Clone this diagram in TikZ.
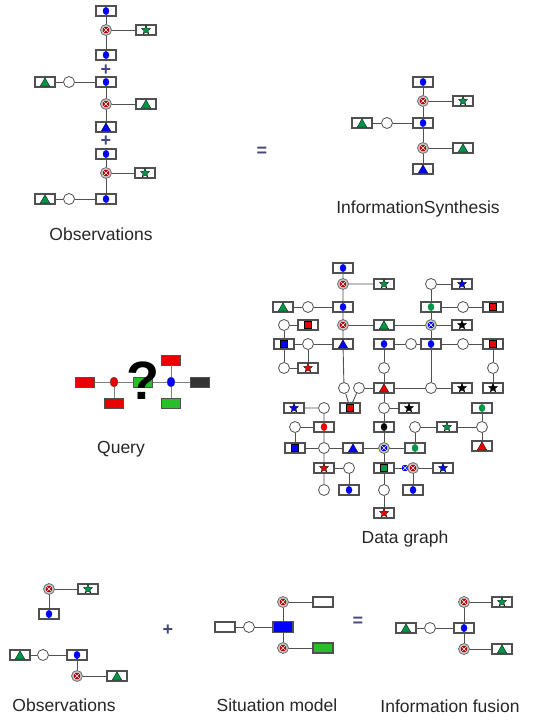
\documentclass[tikz,border=0pt]{standalone}
\usepackage{fontspec}
\setmainfont{Liberation Sans}
\usetikzlibrary{shapes.geometric}

\definecolor{gcol}{RGB}{0,150,70}
\definecolor{qgreen}{RGB}{40,190,40}
\definecolor{xred}{RGB}{180,0,0}
\definecolor{rcol}{RGB}{235,0,0}
\definecolor{opcol}{RGB}{70,70,130}
\definecolor{lcol}{RGB}{80,80,80}

\tikzset{
  vbox/.style={rectangle, draw=lcol, line width=1.1pt, fill=white, minimum width=20, minimum height=10, inner sep=0},
  ring/.style={circle, draw=lcol, line width=0.8pt, fill=white, minimum size=11, inner sep=0},
  edge/.style={draw=lcol, line width=0.9pt},
  dotm/.style={ellipse, inner sep=0, minimum width=6.5, minimum height=8},
  trim/.style={regular polygon, regular polygon sides=3, inner sep=0, minimum size=11, draw=black, line width=0.3pt, yshift=-1.3pt},
  starm/.style={star, star points=5, star point ratio=2.3, inner sep=0, minimum size=9.5, draw=black, line width=0.3pt},
  sqm/.style={rectangle, inner sep=0, minimum size=7, draw=black, line width=0.3pt},
  dotbox/.style={vbox, label={[dotm, fill=#1]center:{}}},
  tribox/.style={vbox, label={[trim, fill=#1]center:{}}},
  starbox/.style={vbox, label={[starm, fill=#1]center:{}}},
  sqbox/.style={vbox, label={[sqm, fill=#1]center:{}}},
  xm/.style={rectangle, inner sep=0, minimum size=6,
    path picture={\draw[white, line width=0.4pt] (path picture bounding box.south west) -- (path picture bounding box.north east)
      (path picture bounding box.north west) -- (path picture bounding box.south east);}},
  xnode/.style={circle, draw=gray!80!black, line width=0.7pt, fill=gray!50, minimum size=11, inner sep=0, label={[xm, fill=#1]center:{}}},
  xnode/.default=xred,
  qrect/.style={rectangle, draw=lcol, line width=0.5pt, minimum width=19, minimum height=10, inner sep=0, fill=#1},
  qdot/.style={ellipse, draw=lcol, line width=0.4pt, minimum width=8, minimum height=10, inner sep=0, fill=#1},
  qedge/.style={draw=gray, line width=0.8pt},
  caption/.style={anchor=base, text=black!85, font=\fontsize{17.5}{20}\selectfont},
  op/.style={text=opcol, font=\fontsize{18}{18}\selectfont\bfseries}
}

\begin{document}
\begin{tikzpicture}[x=1pt, y=-1pt]
	\useasboundingbox (0,0) rectangle (544,720);

	% Observations (top)
	\node[dotbox=blue] (oa1) at (106,11) {};
	\node[xnode] (oa2) at (106,30) {};
	\node[starbox=gcol] (oa3) at (146,30) {};
	\node[dotbox=blue] (oa4) at (106,55) {};
	\node[op] (plus1) at (106,70) {+};
	\node[dotbox=blue] (ob1) at (106,82) {};
	\node[ring] (ob2) at (69,82) {};
	\node[tribox=gcol] (ob3) at (45,82) {};
	\node[xnode] (ob4) at (106,104) {};
	\node[tribox=gcol] (ob5) at (146,104) {};
	\node[tribox=blue] (ob6) at (106,127) {};
	\node[op] (plus2) at (106,141) {+};
	\node[dotbox=blue] (oc1) at (106,154) {};
	\node[xnode] (oc2) at (106,173) {};
	\node[starbox=gcol] (oc3) at (145,173) {};
	\node[dotbox=blue] (oc4) at (106,199) {};
	\node[ring] (oc5) at (69,199) {};
	\node[tribox=gcol] (oc6) at (45,199) {};
	\draw[edge] (oa1) -- (oa2) -- (oa4) (oa2) -- (oa3);
	\draw[edge] (ob3) -- (ob2) -- (ob1) -- (ob4) -- (ob6) (ob4) -- (ob5);
	\draw[edge] (oc1) -- (oc2) -- (oc4) (oc2) -- (oc3) (oc6) -- (oc5) -- (oc4);
	\node[caption] (obs1) at (101,240) {Observations};

	\node[op] (eq1) at (262,152) {=};

	% Information synthesis
	\node[dotbox=blue] (s1) at (423,82) {};
	\node[xnode] (s2) at (423,101) {};
	\node[starbox=gcol] (s3) at (463,101) {};
	\node[dotbox=blue] (s4) at (423,123) {};
	\node[ring] (s5) at (387,123) {};
	\node[tribox=gcol] (s6) at (362,123) {};
	\node[xnode] (s7) at (423,148) {};
	\node[tribox=gcol] (s8) at (463,148) {};
	\node[tribox=blue] (s9) at (423,169) {};
	\draw[edge] (s1) -- (s2) -- (s4) -- (s7) -- (s9) (s2) -- (s3) (s7) -- (s8) (s6) -- (s5) -- (s4);
	\node[caption] (syn) at (418,213) {InformationSynthesis};

	% Query
	\node[qrect=rcol] (q1) at (85,382) {};
	\node[qdot=rcol] (q2) at (114,382) {};
	\node[qrect=rcol] (q3) at (114,403) {};
	\node[qrect=qgreen] (q4) at (143,382) {};
	\node[qdot=blue] (q5) at (171,382) {};
	\node[qrect=rcol] (q6) at (171,360) {};
	\node[qrect=qgreen] (q7) at (171,403) {};
	\node[qrect=black!80] (q8) at (200,382) {};
	\draw[qedge] (q1) -- (q2) -- (q4) -- (q5) -- (q8) (q2) -- (q3) (q6) -- (q5) -- (q7);
	\node[font=\fontsize{54}{54}\selectfont\bfseries] (qmark) at (143,381) {?};
	\node[caption] (query) at (121,453) {Query};

	% Data graph, upper part
	\node[dotbox=blue] (d1) at (343,268) {};
	\node[xnode] (d2) at (343,284) {};
	\node[starbox=gcol] (d3) at (384,284) {};
	\node[ring] (d4) at (431,284) {};
	\node[starbox=blue] (d5) at (462,284) {};
	\node[tribox=gcol] (d6) at (283,307) {};
	\node[ring] (d7) at (308,307) {};
	\node[dotbox=blue] (d8) at (343,307) {};
	\node[dotbox=gcol] (d9) at (431,307) {};
	\node[ring] (d10) at (463,307) {};
	\node[sqbox=rcol] (d11) at (493,307) {};
	\node[ring] (d12) at (284,325) {};
	\node[sqbox=rcol] (d13) at (308,325) {};
	\node[xnode] (d14) at (343,325) {};
	\node[tribox=gcol] (d15) at (384,325) {};
	\node[xnode=blue] (d16) at (431,325) {};
	\node[starbox=black] (d17) at (462,325) {};
	\node[sqbox=blue] (d18) at (284,344) {};
	\node[ring] (d19) at (308,344) {};
	\node[tribox=blue] (d20) at (343,344) {};
	\node[dotbox=blue] (d21) at (384,344) {};
	\node[ring] (d22) at (411,344) {};
	\node[dotbox=blue] (d23) at (431,344) {};
	\node[ring] (d24) at (463,344) {};
	\node[sqbox=rcol] (d25) at (493,344) {};
	\node[ring] (d26) at (284,368) {};
	\node[starbox=rcol] (d27) at (308,368) {};
	\node[ring] (d28) at (384,368) {};
	\node[ring] (d29) at (493,368) {};
	\node[ring] (d30) at (344,388) {};
	\node[ring] (d31) at (359,388) {};
	\node[tribox=rcol] (d32) at (384,388) {};
	\node[ring] (d33) at (431,388) {};
	\node[starbox=black] (d34) at (462,388) {};
	\node[starbox=black] (d35) at (493,388) {};
	\draw[edge] (d1) -- (d2) -- (d8) -- (d14) -- (d20) -- (d30) (d2) -- (d3);
	\draw[edge] (d6) -- (d7) -- (d8) (d14) -- (d15) -- (d16) -- (d17);
	\draw[edge] (d4) -- (d5) (d4) -- (d9) -- (d16) -- (d23) -- (d33) (d9) -- (d10) -- (d11);
	\draw[edge] (d13) -- (d12) -- (d18) -- (d26) -- (d27) -- (d19) (d18) -- (d19) -- (d20);
	\draw[edge] (d21) -- (d22) -- (d23) -- (d24) -- (d25) -- (d29) -- (d35);
	\draw[edge] (d21) -- (d28) -- (d32) (d31) -- (d32) -- (d33) -- (d34);

	% Data graph, lower part
	\node[starbox=blue] (d36) at (294,408) {};
	\node[ring] (d37) at (324,408) {};
	\node[sqbox=rcol] (d38) at (350,408) {};
	\node[ring] (d39) at (384,408) {};
	\node[starbox=black] (d40) at (409,408) {};
	\node[dotbox=gcol] (d41) at (482,408) {};
	\node[ring] (d42) at (295,427) {};
	\node[dotbox=rcol] (d43) at (324,427) {};
	\node[dotbox=black] (d44) at (384,427) {};
	\node[ring] (d45) at (415,427) {};
	\node[starbox=gcol] (d46) at (447,427) {};
	\node[ring] (d47) at (482,427) {};
	\node[sqbox=blue] (d48) at (295,448) {};
	\node[ring] (d49) at (324,448) {};
	\node[tribox=blue] (d50) at (353,448) {};
	\node[xnode=blue] (d51) at (384,448) {};
	\node[dotbox=gcol] (d52) at (415,448) {};
	\node[tribox=rcol] (d53) at (482,446) {};
	\node[starbox=rcol] (d54) at (324,468) {};
	\node[ring] (d55) at (349,468) {};
	\node[sqbox=gcol] (d56) at (384,468) {};
	\node[xm, fill=blue] (d57) at (405,468) {};
	\node[xnode] (d58) at (413,468) {};
	\node[starbox=blue] (d59) at (443,468) {};
	\node[ring] (d60) at (324,490) {};
	\node[dotbox=blue] (d61) at (349,490) {};
	\node[ring] (d62) at (384,490) {};
	\node[dotbox=blue] (d63) at (413,490) {};
	\node[starbox=rcol] (d64) at (384,513) {};
	\draw[edge] (d30) -- (d38) -- (d31) (d36) -- (d37) -- (d43) -- (d49) -- (d54) -- (d60);
	\draw[edge] (d32) -- (d39) -- (d44) -- (d51) -- (d56) -- (d62) -- (d64) (d39) -- (d40);
	\draw[edge] (d42) -- (d43) (d42) -- (d48) -- (d49) -- (d50) -- (d51) -- (d52) -- (d45) -- (d46) -- (d47);
	\draw[edge] (d41) -- (d47) -- (d53) (d54) -- (d55) -- (d61);
	\draw[edge] (d56) -- (d57) (d58) -- (d59) (d58) -- (d63);
	\node[caption] (dgraph) at (405,543) {Data graph};

	% Observations (bottom)
	\node[xnode] (b1) at (49,589) {};
	\node[starbox=gcol] (b2) at (88,589) {};
	\node[dotbox=blue] (b3) at (49,614) {};
	\node[tribox=gcol] (b4) at (20,655) {};
	\node[ring] (b5) at (43,655) {};
	\node[dotbox=blue] (b6) at (77,655) {};
	\node[xnode] (b7) at (77,676) {};
	\node[tribox=gcol] (b8) at (117,676) {};
	\draw[edge] (b2) -- (b1) -- (b3) (b4) -- (b5) -- (b6) -- (b7) -- (b8);
	\node[caption] (obs2) at (64,711) {Observations};

	\node[op] (plus3) at (168,630) {+};

	% Situation model
	\node[vbox] (m1) at (225,627) {};
	\node[ring] (m2) at (249,627) {};
	\node[vbox, fill=blue, minimum height=11] (m3) at (283,627) {};
	\node[xnode] (m4) at (283,602) {};
	\node[vbox] (m5) at (323,602) {};
	\node[xnode] (m6) at (283,648) {};
	\node[vbox, fill=qgreen] (m7) at (323,648) {};
	\draw[edge] (m1) -- (m2) -- (m3) -- (m4) -- (m5) (m3) -- (m6) -- (m7);
	\node[caption] (model) at (277,711) {Situation model};

	\node[op] (eq2) at (358,622) {=};

	% Information fusion
	\node[tribox=gcol] (f1) at (406,628) {};
	\node[ring] (f2) at (430,628) {};
	\node[dotbox=blue] (f3) at (464,628) {};
	\node[xnode] (f4) at (464,602) {};
	\node[starbox=gcol] (f5) at (502,602) {};
	\node[xnode] (f6) at (464,649) {};
	\node[tribox=gcol] (f7) at (502,649) {};
	\draw[edge] (f1) -- (f2) -- (f3) -- (f4) -- (f5) (f3) -- (f6) -- (f7);
	\node[caption] (fusion) at (450,712) {Information fusion};
\end{tikzpicture}
\end{document}
